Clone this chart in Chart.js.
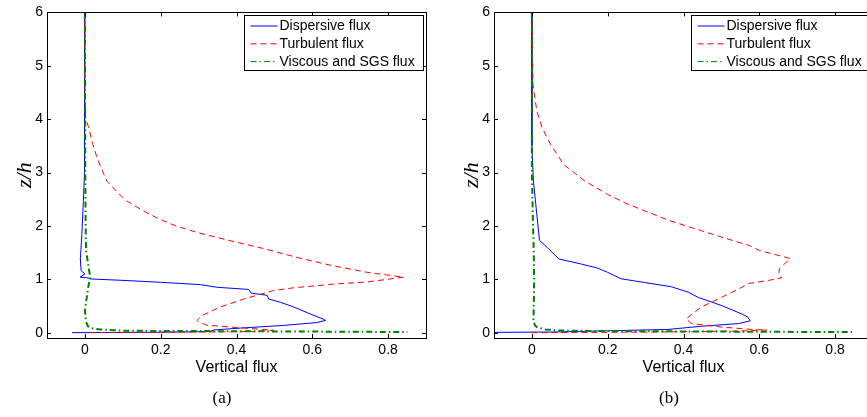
<!DOCTYPE html>
<html>
<head>
<meta charset="utf-8">
<script src="https://cdn.jsdelivr.net/npm/chart.js@4.4.1/dist/chart.umd.min.js"></script>
<style>
  html, body { margin: 0; padding: 0; background: #fff; }
  body { width: 867px; height: 417px; overflow: hidden; position: relative; }
  .panel { position: absolute; top: 0; width: 440px; height: 417px; }
  #panelA { left: 0; }
  #panelB { left: 447px; }
</style>
</head>
<body>
<div class="panel" id="panelA"><canvas id="chartA" width="440" height="417"></canvas></div>
<div class="panel" id="panelB"><canvas id="chartB" width="440" height="417"></canvas></div>
<script>
// Tick values and series labels
const xTicks = [0, 0.2, 0.4, 0.6, 0.8];
const zTicks = [0, 1, 2, 3, 4, 5, 6];
const seriesNames = ['Dispersive flux', 'Turbulent flux', 'Viscous and SGS flux'];

// Panel (a): height z/h and flux, listed along each profile
const zDispA = [6, 4, 3, 2.47, 1.84, 1.38, 1.16, 1.1, 1.04, 1.03, 1.007, 0.976, 0.944, 0.90, 0.85, 0.81, 0.76, 0.74, 0.70, 0.63, 0.57, 0.48, 0.35, 0.25, 0.23, 0.19, 0.136, 0.086, 0.05, 0.02, 0.008, 0];
const fDispA = [0, 0, -0.002, -0.004, -0.008, -0.012, -0.01, 0.0, -0.013, 0.005, 0.014, 0.111, 0.199, 0.305, 0.349, 0.432, 0.437, 0.439, 0.481, 0.485, 0.516, 0.551, 0.595, 0.630, 0.635, 0.613, 0.525, 0.41, 0.34, 0.33, 0.2, -0.034];

const zTurbA = [6, 4.5, 4.02, 3.84, 3.55, 3.28, 3.05, 2.84, 2.6, 2.47, 2.3, 2.15, 2.0, 1.88, 1.72, 1.57, 1.4, 1.26, 1.13, 1.04, 0.95, 0.91, 0.84, 0.79, 0.63, 0.48, 0.32, 0.23, 0.2, 0.14, 0.086, 0.045, 0.02, 0.008, 0];
const fTurbA = [0, 0, 0.002, 0.01, 0.02, 0.032, 0.045, 0.058, 0.09, 0.11, 0.15, 0.19, 0.24, 0.295, 0.385, 0.475, 0.565, 0.65, 0.745, 0.842, 0.745, 0.657, 0.55, 0.498, 0.419, 0.357, 0.309, 0.296, 0.30, 0.322, 0.419, 0.498, 0.45, 0.2, 0];

const zViscA = [6, 3, 2, 1.54, 1.22, 1.04, 0.9, 0.72, 0.41, 0.2, 0.12, 0.08, 0.06, 0.045, 0.035, 0.03, 0.02, 0.012];
const fViscA = [0, 0.001, 0.002, 0.003, 0.01, 0.014, 0.01, 0.006, 0.0, 0.003, 0.008, 0.02, 0.04, 0.076, 0.11, 0.3, 0.6, 0.851];

// Panel (b)
const zDispB = [6, 3.5, 2.84, 1.73, 1.6, 1.38, 1.29, 1.21, 1.13, 1.01, 0.94, 0.86, 0.76, 0.66, 0.51, 0.35, 0.29, 0.22, 0.17, 0.12, 0.06, 0.035, 0.012, 0.005];
const fDispB = [0, 0, 0.004, 0.020, 0.04, 0.071, 0.128, 0.173, 0.2, 0.235, 0.297, 0.368, 0.412, 0.439, 0.50, 0.554, 0.57, 0.576, 0.545, 0.447, 0.359, 0.2, 0.05, -0.11];

const zTurbB = [6, 4.64, 4.15, 3.84, 3.53, 3.15, 2.84, 2.59, 2.41, 2.1, 1.91, 1.78, 1.63, 1.54, 1.39, 1.2, 1.1, 1.03, 0.98, 0.92, 0.85, 0.66, 0.48, 0.26, 0.17, 0.105, 0.056, 0.05, 0.03, 0.01, 0];
const fTurbB = [0, 0.003, 0.013, 0.027, 0.049, 0.084, 0.14, 0.2, 0.252, 0.363, 0.447, 0.505, 0.575, 0.6, 0.682, 0.653, 0.652, 0.66, 0.625, 0.571, 0.554, 0.50, 0.447, 0.407, 0.421, 0.50, 0.589, 0.62, 0.55, 0.3, 0];

const zViscB = [6, 3, 2, 1.5, 1.0, 0.5, 0.23, 0.14, 0.105, 0.06, 0.04, 0.03, 0.02, 0.01];
const fViscB = [0, 0, 0.003, 0.005, 0.006, 0.005, 0.004, 0.008, 0.013, 0.035, 0.075, 0.2, 0.5, 0.845];

const styles = [
  { color: '#0000ff', dash: [], width: 1 },
  { color: '#ff0000', dash: [6, 4], width: 1 },
  { color: '#008000', dash: [6, 3, 1.5, 3], width: 2 }
];

const SANS = "'Liberation Sans', Arial, sans-serif";
const SERIF = "'Liberation Serif', 'Times New Roman', serif";
Chart.defaults.color = '#000';
Chart.defaults.font.family = SANS;
Chart.defaults.font.size = 14;

function pts(f, z) {
  return f.map((v, i) => ({ x: v, y: z[i] }));
}

// Axes box, inward ticks, legend and captions in the MATLAB figure style
const frame = {
  id: 'frame',
  afterDraw(chart, args, opts) {
    const { ctx, chartArea: a, scales } = chart;
    const sx = scales.x, sy = scales.y;
    ctx.save();
    ctx.strokeStyle = '#000';
    ctx.lineWidth = 1;
    ctx.setLineDash([]);
    ctx.strokeRect(Math.round(a.left) + 0.5, Math.round(a.top) + 0.5,
      Math.round(a.right - a.left), Math.round(a.bottom - a.top));
    const tl = 4;
    ctx.beginPath();
    xTicks.forEach(v => {
      const p = Math.round(sx.getPixelForValue(v)) + 0.5;
      ctx.moveTo(p, a.bottom); ctx.lineTo(p, a.bottom - tl);
      ctx.moveTo(p, a.top); ctx.lineTo(p, a.top + tl);
    });
    zTicks.forEach(v => {
      const p = Math.round(sy.getPixelForValue(v)) + 0.5;
      ctx.moveTo(a.left, p); ctx.lineTo(a.left + tl, p);
      ctx.moveTo(a.right, p); ctx.lineTo(a.right - tl, p);
    });
    ctx.stroke();

    // legend
    const bx = Math.round(a.left + 197) + 0.5, by = Math.round(a.top + 3) + 0.5;
    const bw = 179, bh = 55;
    ctx.fillStyle = '#fff';
    ctx.fillRect(bx, by, bw, bh);
    ctx.strokeStyle = '#000';
    ctx.strokeRect(bx, by, bw, bh);
    ctx.font = '14px ' + SANS;
    ctx.textBaseline = 'middle';
    ctx.textAlign = 'left';
    seriesNames.forEach((name, i) => {
      const ry = by + 10.5 + i * 17.8;
      const st = styles[i];
      ctx.strokeStyle = st.color;
      ctx.lineWidth = 1;
      ctx.setLineDash(st.dash);
      ctx.beginPath();
      ctx.moveTo(bx + 6, ry); ctx.lineTo(bx + 33, ry);
      ctx.stroke();
      ctx.setLineDash([]);
      ctx.fillStyle = '#000';
      ctx.fillText(name, bx + 35, ry + 0.5);
    });

    // axis titles and caption
    const cx = (a.left + a.right) / 2;
    ctx.textAlign = 'center';
    ctx.font = '16px ' + SANS;
    ctx.fillText('Vertical flux', cx, 368);
    ctx.font = '17px ' + SERIF;
    ctx.fillText(opts.caption, a.left + 175, 399);
    ctx.save();
    ctx.translate(a.left - 22, (a.top + a.bottom) / 2);
    ctx.rotate(-Math.PI / 2);
    ctx.font = 'italic 22px ' + SERIF;
    ctx.fillText('z/h', 0, 0);
    ctx.restore();
    ctx.restore();
  }
};

function makePanel(id, caption, series) {
  const ctx = document.getElementById(id).getContext('2d');
  return new Chart(ctx, {
    type: 'scatter',
    data: {
      datasets: series.map((s, i) => ({
        label: seriesNames[i],
        data: pts(s[0], s[1]),
        showLine: true,
        borderColor: styles[i].color,
        borderDash: styles[i].dash,
        borderWidth: styles[i].width,
        pointRadius: 0,
        tension: 0,
        order: 3 - i
      }))
    },
    options: {
      responsive: false,
      animation: false,
      layout: { padding: { top: 10, right: 14, left: 0, bottom: 0 } },
      plugins: {
        legend: { display: false },
        tooltip: { enabled: false },
        frame: { caption: caption }
      },
      scales: {
        x: {
          type: 'linear', min: -0.1, max: 0.9,
          grid: { display: false, drawTicks: false }, border: { display: false },
          ticks: { padding: 4, autoSkip: false, maxRotation: 0,
            callback: v => String(Math.round(v * 10) / 10) },
          afterBuildTicks: s => { s.ticks = xTicks.map(v => ({ value: v })); },
          afterFit: s => { s.height = 79; }
        },
        y: {
          type: 'linear', min: -0.1, max: 6,
          grid: { display: false, drawTicks: false }, border: { display: false },
          ticks: { padding: 4, autoSkip: false,
            callback: v => String(v) },
          afterBuildTicks: s => { s.ticks = zTicks.map(v => ({ value: v })); },
          afterFit: s => { s.width = 47; }
        }
      }
    },
    plugins: [frame]
  });
}

makePanel('chartA', '(a)', [[fDispA, zDispA], [fTurbA, zTurbA], [fViscA, zViscA]]);
makePanel('chartB', '(b)', [[fDispB, zDispB], [fTurbB, zTurbB], [fViscB, zViscB]]);
</script>
</body>
</html>
